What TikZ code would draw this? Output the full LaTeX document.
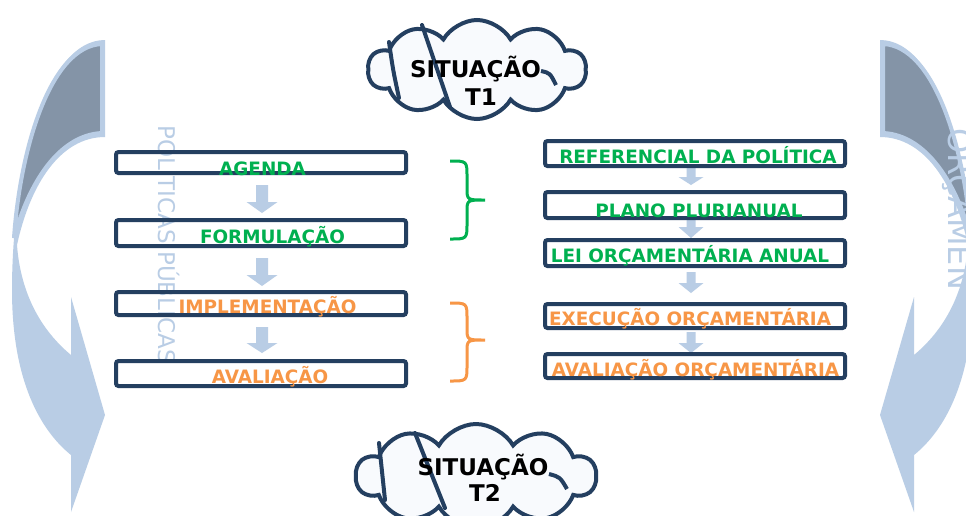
\documentclass[tikz,border=0pt]{standalone}
\usepackage{fontspec}
\setmainfont{DejaVu Sans}
\usetikzlibrary{shapes.symbols}
\definecolor{boxblue}{HTML}{243F60}
\definecolor{lblue}{HTML}{B9CDE5}
\definecolor{dgray}{HTML}{8494A7}
\definecolor{tgreen}{HTML}{00B050}
\definecolor{torange}{HTML}{F79646}
\definecolor{cloudfill}{HTML}{F8FAFD}
\newcommand\blockarr[6]{\fill[lblue] (#1-#5,#2) -- (#1+#5,#2) -- (#1+#5,#3) -- (#1+#6,#3) -- (#1,#4) -- (#1-#6,#3) -- (#1-#5,#3) -- cycle;}
\newcommand\sidearrow{%
  \fill[lblue] (105,40) .. controls (45,40) and (12,170) .. (12,290) .. controls (12,380) and (40,430) .. (71,455) -- (71,512) -- (105,415) -- (71,297) -- (71,355) .. controls (35,325) and (20,285) .. (17,245) .. controls (30,185) and (60,137) .. (105,137) -- cycle;
  \filldraw[fill=dgray, draw=lblue, line width=4pt] (102,44) .. controls (50,46) and (20,150) .. (14,238) .. controls (28,185) and (58,135) .. (102,133) -- cycle;}
\tikzset{
  box/.style={draw=boxblue, line width=4pt, rounded corners=2.5pt, inner sep=0pt},
  lbl/.style={font=\fontsize{18.4}{20}\selectfont\bfseries, anchor=base, inner sep=0pt},
  cloudlbl/.style={font=\fontsize{23}{25}\selectfont\bfseries, anchor=base, inner sep=0pt, text=black},
  brace/.style={line width=3pt},
  cloudbox/.style={cloud, cloud puffs=10, cloud puff arc=120, aspect=2.1, draw=boxblue, fill=cloudfill, line width=4pt, inner sep=0pt},
  cloudline/.style={draw=boxblue, line width=4pt, line cap=round},
}
\begin{document}
\begin{tikzpicture}[x=1pt, y=-1pt]
\useasboundingbox (0,0) rectangle (966,515);
\clip (0,0) rectangle (966,515);
\fill[white] (0,0) rectangle (966,515);

% side curved arrows
\sidearrow
\begin{scope}[shift={(985,0)}, xscale=-1]
\sidearrow
\end{scope}

% vertical texts
\node[rotate=-90, anchor=base west, inner sep=0pt, text=lblue, font=\fontsize{23}{23}\selectfont] (pp) at (158,125) {POLÍTICAS PÚBLICAS};
\node[rotate=-90, anchor=base west, inner sep=0pt, text=lblue, font=\fontsize{32}{32}\selectfont] (orc) at (948,128) {ORÇAMEN};

% block arrows left
\blockarr{262}{185}{202}{213}{6}{15.5}
\blockarr{262}{258}{275}{286}{6}{15.5}
\blockarr{262}{327}{343}{353}{6}{15.5}
% block arrows right
\blockarr{691}{165}{177}{185}{4.5}{12.5}
\blockarr{691}{220}{227}{238}{4.5}{12.5}
\blockarr{691}{272}{283}{293}{4.5}{12.5}
\blockarr{691}{332}{343}{353}{4.5}{12.5}

% left boxes
\node[box, minimum width=290pt, minimum height=21pt] (b1) at (261,162.5) {};
\node[box, minimum width=290pt, minimum height=26pt] (b2) at (261,233) {};
\node[box, minimum width=290pt, minimum height=23pt] (b3) at (261,303.5) {};
\node[box, minimum width=290pt, minimum height=25pt] (b4) at (261,373.5) {};
\node[lbl, text=tgreen] (t1) at (262.5,175) {AGENDA};
\node[lbl, text=tgreen] (t2) at (272.5,243) {FORMULAÇÃO};
\node[lbl, text=torange] (t3) at (267.5,313) {IMPLEMENTAÇÃO};
\node[lbl, text=torange] (t4) at (270,383) {AVALIAÇÃO};

% right boxes
\node[box, minimum width=300pt, minimum height=25pt] (r1) at (695,153.5) {};
\node[box, minimum width=300pt, minimum height=26pt] (r2) at (695,205) {};
\node[box, minimum width=300pt, minimum height=26pt] (r3) at (695,253) {};
\node[box, minimum width=300pt, minimum height=24pt] (r4) at (695,316) {};
\node[box, minimum width=300pt, minimum height=24pt] (r5) at (695,366) {};
\node[lbl, text=tgreen] (s1) at (698,163) {REFERENCIAL DA POLÍTICA};
\node[lbl, text=tgreen] (s2) at (699,217) {PLANO PLURIANUAL};
\node[lbl, text=tgreen] (s3) at (690,262) {LEI ORÇAMENTÁRIA ANUAL};
\node[lbl, text=torange] (s4) at (690,325) {EXECUÇÃO ORÇAMENTÁRIA};
\node[lbl, text=torange] (s5) at (695.5,376) {AVALIAÇÃO ORÇAMENTÁRIA};

% braces
\draw[brace, tgreen] (450,161) .. controls (467,161) .. (467,177) -- (467,188) .. controls (467,200) .. (485,200) .. controls (467,200) .. (467,212) -- (467,223) .. controls (467,239) .. (450,239);
\draw[brace, torange] (450,303) .. controls (467,303) .. (467,319) -- (467,328) .. controls (467,340) .. (485,340) .. controls (467,340) .. (467,352) -- (467,365) .. controls (467,381) .. (450,381);

% cloud T1
\node[cloudbox, minimum width=218pt, minimum height=99pt] (c1) at (477,69.5) {};
\draw[cloudline] (389,42) .. controls (393,70) .. (399,98);
\draw[cloudline] (422,25) -- (450,107);
\draw[boxblue, line width=4pt] (541,71) .. controls (550,73) .. (556,85);
\node[cloudlbl] (c1a) at (475.5,77) {SITUAÇÃO};
\node[cloudlbl] (c1b) at (481,105) {T1};

% cloud T2
\node[cloudbox, minimum width=240pt, minimum height=104pt] (c2) at (476,476) {};
\draw[cloudline] (379,443) .. controls (382,472) .. (385,500);
\draw[cloudline] (415,433) -- (445,508);
\draw[boxblue, line width=4pt] (549,474) .. controls (560,477) .. (567,489);
\node[cloudlbl] (c2a) at (483,475) {SITUAÇÃO};
\node[cloudlbl] (c2b) at (485,501) {T2};
\end{tikzpicture}
\end{document}
